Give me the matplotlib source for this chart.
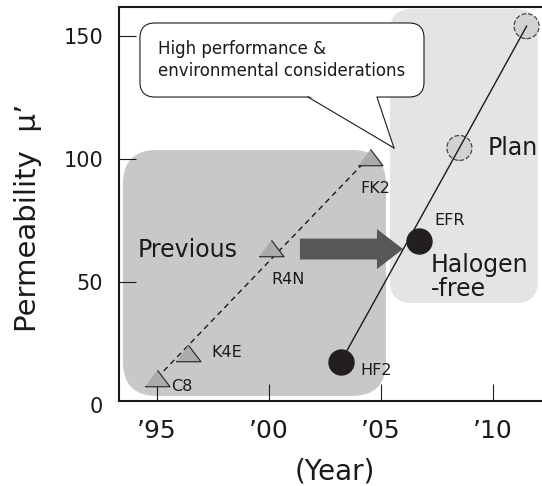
import matplotlib
matplotlib.use("Agg")
import matplotlib.pyplot as plt
from matplotlib.patches import FancyBboxPatch, FancyArrow, Polygon

# ---------------- data ----------------
prev_names = ["C8", "K4E", "R4N", "FK2"]
prev_years = [1995.0, 1996.4, 2000.1, 2004.5]
prev_mu = [11, 21, 64, 101]

hf_names = ["HF2", "EFR"]
hf_years = [2003.2, 2006.7]
hf_mu = [17.5, 66.7]

plan_years = [2008.5, 2011.5]
plan_mu = [104.5, 154]

xticks = [1995, 2000, 2005, 2010]
xticklabels = ["\u201995", "\u201900", "\u201905", "\u201910"]
yticks = [0, 50, 100, 150]

bubble_text = "High performance &\nenvironmental considerations"

# ---------------- figure ----------------
plt.rcParams['font.family'] = ['DejaVu Sans']
W, H = 542, 486
fig = plt.figure(figsize=(W / 100, H / 100), dpi=100)
ax = fig.add_axes([119 / W, 1 - 405 / H, 423 / W, 398 / H])
ax.set_xlim(1993.304, 2012.1875)
ax.set_ylim(0, 161.8)

px_x = 423 / (2012.1875 - 1993.304)
px_y = 398 / 161.8
aspect = px_x / px_y


def rbox(x0, y0, x1, y1, r_px, **kw):
    p = FancyBboxPatch((x0, y0), x1 - x0, y1 - y0,
                       boxstyle=f"round,pad=0,rounding_size={r_px / px_x}",
                       mutation_aspect=aspect, **kw)
    ax.add_patch(p)
    return p


# background regions
rbox(1993.48, 3.66, 2005.22, 103.7, 34, facecolor='#c8c8c8', edgecolor='none', zorder=1)
rbox(2005.40, 41.5, 2012.0, 161.0, 22, facecolor='#e4e4e4', edgecolor='none', zorder=1)

# speech bubble
rbox(1994.24, 125.2, 2006.92, 155.3, 15, facecolor='white', edgecolor='#1a1a1a',
     linewidth=0.8, zorder=5)
tail_base = [(2001.74, 125.2), (2004.82, 125.2)]
tail_tip = (2005.58, 104.5)
ax.add_patch(Polygon([(tail_base[0][0], 125.9), (tail_base[1][0], 125.9), tail_tip],
                     closed=True, facecolor='white', edgecolor='none', zorder=6))
for bx, by in tail_base:
    ax.plot([bx, tail_tip[0]], [by, tail_tip[1]], color='#1a1a1a', lw=0.8, zorder=7)
ax.text(1995.04, 140.3, bubble_text, fontsize=12, ha='left', va='center',
        linespacing=1.3, color='#1a1a1a', zorder=8)

# big arrow
ax.add_patch(FancyArrow(2001.38, 63.4, 4.6, 0, width=8.5, head_width=16.3,
                        head_length=1.16, length_includes_head=True,
                        facecolor='#575757', edgecolor='none', zorder=3))

# previous products: dashed trend + triangles
ax.plot([prev_years[0], prev_years[-1]], [prev_mu[0], prev_mu[-1]],
        color='#1a1a1a', lw=1.0, ls=(0, (4, 3)), zorder=3)
tri = [(-1, -0.66), (1, -0.66), (0, 0.66)]
ax.plot(prev_years, prev_mu, ls='none', marker=tri, ms=18, mfc='#ababab',
        mec='#222222', mew=0.8, zorder=4)

# halogen-free line and plan
trend_x = [hf_years[0]] + plan_years
trend_y = [hf_mu[0]] + plan_mu
ax.scatter(plan_years, plan_mu, s=18 ** 2, facecolor='#d2d2d2', edgecolor='#444444',
           linewidths=0.9, linestyle='--', zorder=3)
ax.plot(trend_x, trend_y, color='#1a1a1a', lw=1.0, zorder=3.5)
ax.plot(hf_years, hf_mu, ls='none', marker='o', ms=18, mfc='#231f20',
        mec='#231f20', zorder=4)

# point labels (offsets in points)
offsets = {"C8": (10, -6), "K4E": (16.5, 0.5), "R4N": (0, -23), "FK2": (-7, -23),
           "HF2": (14.4, -6), "EFR": (11, 15)}
for n, xv, yv in zip(prev_names + hf_names, prev_years + hf_years, prev_mu + hf_mu):
    ax.annotate(n, (xv, yv), xytext=offsets[n], textcoords='offset points',
                ha='left', va='center', fontsize=11.5, color='#1a1a1a', zorder=8)

# region labels
ax.text(1994.15, 63.0, "Previous", fontsize=17, ha='left', va='center', color='#1a1a1a', zorder=8)
ax.text(2009.78, 104.5, "Plan", fontsize=17, ha='left', va='center', color='#1a1a1a', zorder=8)
ax.text(2007.23, 52.2, "Halogen\n-free", fontsize=17, ha='left', va='center',
        linespacing=1.0, color='#1a1a1a', zorder=8)

# axes styling
ax.set_xticks(xticks)
ax.set_xticklabels(xticklabels)
ax.set_yticks(yticks)
ax.tick_params(direction='in', length=12, width=0.8, colors='#1a1a1a')
ax.tick_params(axis='x', labelsize=18, pad=13)
ax.tick_params(axis='y', labelsize=15, pad=11.5)
ax.yaxis.get_major_ticks()[0].tick1line.set_visible(False)

ax.spines['right'].set_visible(False)
ax.spines['bottom'].set_position(('data', 1.63))
ax.spines['left'].set_bounds(1.63, 161.8)
for s in ['left', 'bottom', 'top']:
    ax.spines[s].set_linewidth(1.5)
    ax.spines[s].set_color('#1a1a1a')

ax.set_ylabel("Permeability  \u03bc\u2019", fontsize=21, color='#1a1a1a')
ax.yaxis.set_label_coords(-0.182, 0.47)
ax.set_xlabel("(Year)", fontsize=20, color='#1a1a1a')
ax.xaxis.set_label_coords(0.51, -0.133)

fig.savefig("out.png", dpi=100)
